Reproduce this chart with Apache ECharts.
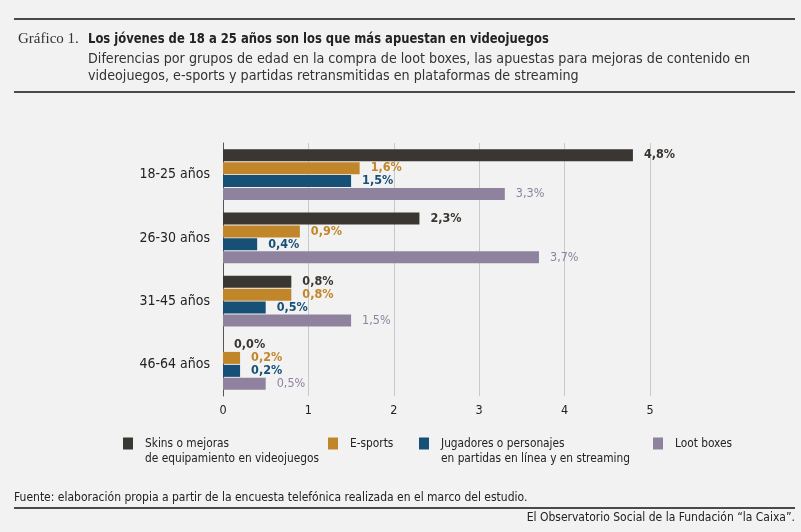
<!DOCTYPE html>
<html>
<head>
<meta charset="utf-8">
<script src="https://cdn.jsdelivr.net/npm/echarts@6/dist/echarts.min.js"></script>
<style>
  html, body { margin: 0; padding: 0; background: #f2f2f2; }
  #main { width: 801px; height: 532px; }
</style>
</head>
<body>
<div id="main"></div>
<script>
const categories = ['18-25 años', '26-30 años', '31-45 años', '46-64 años'];
const seriesNames = [
  'Skins o mejoras\nde equipamiento en videojuegos',
  'E-sports',
  'Jugadores o personajes\nen partidas en línea y en streaming',
  'Loot boxes'
];
const skins = [4.8, 2.3, 0.8, 0.0];
const esports = [1.6, 0.9, 0.8, 0.2];
const jugadores = [1.5, 0.4, 0.5, 0.2];
const lootBoxes = [3.3, 3.7, 1.5, 0.5];
const xTicks = [0, 1, 2, 3, 4, 5];

const colors = ['#3a3631', '#c2862a', '#175077', '#8f829f'];
const FONT = '"Liberation Sans Narrow", "DejaVu Sans Condensed", "Liberation Sans", sans-serif';

// square in the top part of a taller box, so it lines up with the first text line
const TOP_SQUARE = 'path://M0,0h10v12h-10z M0,26.99h0.01v0.01h-0.01z';

const chart = echarts.init(document.getElementById('main'));

function pct(v) {
  return v.toFixed(1).replace('.', ',') + '%';
}

function makeSeries(name, data, i) {
  return {
    name: name,
    type: 'bar',
    data: data,
    barWidth: 12,
    barGap: '8%',
    itemStyle: { color: colors[i] },
    label: {
      show: true,
      position: 'right',
      distance: 11,
      color: colors[i],
      fontFamily: FONT,
      fontSize: 12.5,
      fontWeight: i === 3 ? 'normal' : 'bold',
      formatter: p => pct(p.value)
    }
  };
}

const legendLefts = [123, 328, 419, 653];

const option = {
  backgroundColor: '#f2f2f2',
  animation: false,
  textStyle: { fontFamily: FONT },
  grid: { left: 223, right: 151, top: 143, bottom: 136 },
  legend: seriesNames.map((n, i) => {
    const multi = n.indexOf('\n') >= 0;
    return {
      data: [{ name: n, icon: multi ? TOP_SQUARE : 'rect' }],
      left: legendLefts[i],
      top: 436,
      padding: 0,
      itemWidth: 10,
      itemHeight: multi ? 27 : 12,
      itemGap: 0,
      selectedMode: false,
      textStyle: {
        fontFamily: FONT,
        fontSize: 11.8,
        color: '#222',
        lineHeight: 15,
        padding: [0, 0, 0, 7]
      }
    };
  }),
  xAxis: {
    type: 'value',
    min: xTicks[0],
    max: xTicks[xTicks.length - 1],
    interval: 1,
    axisLine: { show: false },
    axisTick: { show: false },
    axisLabel: { color: '#222', fontSize: 12.5, margin: 8, fontFamily: FONT },
    splitLine: { lineStyle: { color: '#c9c9c9', width: 1 } }
  },
  yAxis: {
    type: 'category',
    data: categories,
    inverse: true,
    axisLine: { lineStyle: { color: '#555', width: 1 } },
    axisTick: { show: false },
    axisLabel: { color: '#222', fontSize: 14, margin: 13, fontFamily: FONT }
  },
  series: [
    makeSeries(seriesNames[0], skins, 0),
    makeSeries(seriesNames[1], esports, 1),
    makeSeries(seriesNames[2], jugadores, 2),
    makeSeries(seriesNames[3], lootBoxes, 3)
  ],
  graphic: [
    { type: 'rect', shape: { x: 14, y: 18, width: 781, height: 2 }, style: { fill: '#4a4a4a' } },
    { type: 'text', left: 18, top: 32, style: { text: 'Gráfico 1.', fontFamily: '"Liberation Serif", "DejaVu Serif", serif', fontSize: 15, fill: '#333' } },
    { type: 'text', x: 88, y: 32, scaleX: 0.87, style: { text: 'Los jóvenes de 18 a 25 años son los que más apuestan en videojuegos', fontFamily: FONT, fontWeight: 'bold', fontSize: 14.8, fill: '#222' } },
    { type: 'text', left: 88, top: 51, style: { text: 'Diferencias por grupos de edad en la compra de loot boxes, las apuestas para mejoras de contenido en\nvideojuegos, e-sports y partidas retransmitidas en plataformas de streaming', fontFamily: FONT, fontSize: 14.2, lineHeight: 17, fill: '#333' } },
    { type: 'rect', shape: { x: 14, y: 91, width: 781, height: 2 }, style: { fill: '#4a4a4a' } },
    { type: 'text', left: 14, top: 492, style: { text: 'Fuente: elaboración propia a partir de la encuesta telefónica realizada en el marco del estudio.', fontFamily: FONT, fontSize: 12, fill: '#222' } },
    { type: 'rect', shape: { x: 14, y: 507, width: 781, height: 2 }, style: { fill: '#4a4a4a' } },
    { type: 'text', right: 6, top: 512, style: { text: 'El Observatorio Social de la Fundación “la Caixa”.', fontFamily: FONT, fontSize: 12, fill: '#222' } }
  ]
};

chart.setOption(option);
</script>
</body>
</html>
